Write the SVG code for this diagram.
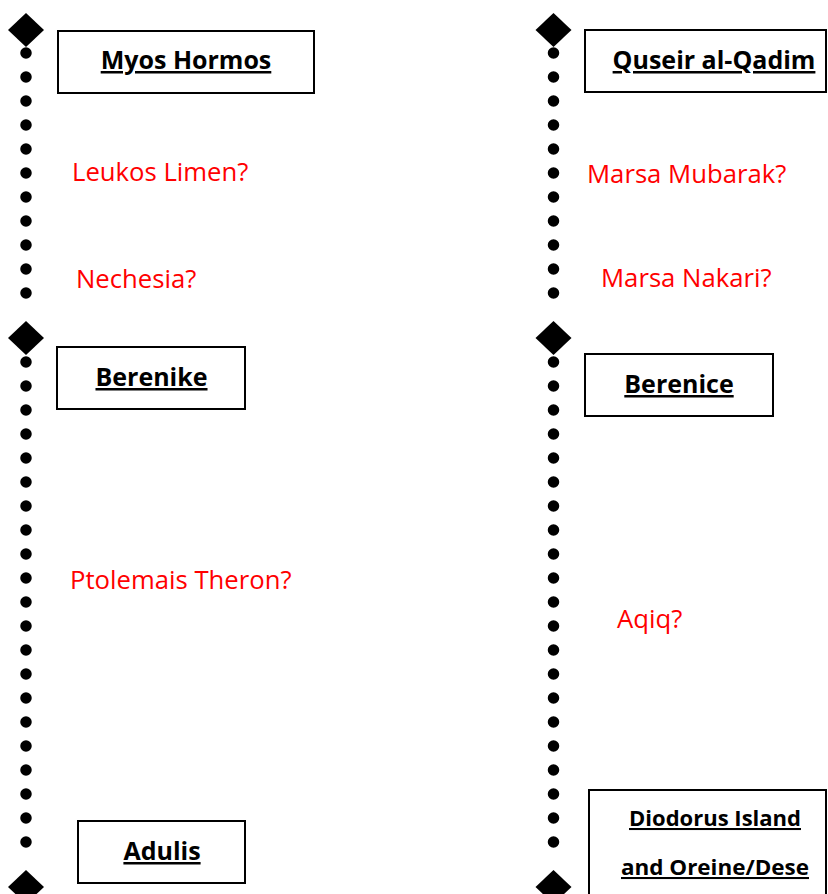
<svg xmlns="http://www.w3.org/2000/svg" width="828" height="894" viewBox="0 0 828 894">
<style>
.box{fill:#fff;stroke:#000;stroke-width:2}
.lbl{font-family:"Open Sans","Noto Sans",sans-serif;font-weight:bold;font-size:25px;fill:#000;text-decoration:underline;text-anchor:middle}
.sm{font-size:20.5px}
.red{font-family:"Open Sans","Noto Sans",sans-serif;font-size:25.7px;fill:#ff0000}
.dots{stroke:#000;stroke-width:11.5;stroke-linecap:round;stroke-dasharray:0 24;fill:none}
</style>
<defs>
<path id="dia" d="M0,-17 L18,0 L0,17 L-18,0 Z" fill="#000"/>
</defs>
<rect width="828" height="894" fill="#fff"/>
<g id="connectors">
<use href="#dia" x="26" y="30"/>
<use href="#dia" x="26" y="338"/>
<use href="#dia" x="26" y="887"/>
<use href="#dia" x="553.5" y="30"/>
<use href="#dia" x="553.5" y="338"/>
<use href="#dia" x="553.5" y="887"/>
<line class="dots" x1="26" y1="53" x2="26" y2="317"/>
<line class="dots" x1="26" y1="362" x2="26" y2="866"/>
<line class="dots" x1="553.5" y1="53" x2="553.5" y2="317"/>
<line class="dots" x1="553.5" y1="362" x2="553.5" y2="866"/>
</g>
<g id="myos-hormos">
<rect class="box" x="58" y="31" width="256" height="62"/>
<text class="lbl" x="186" y="69">Myos Hormos</text>
</g>
<g id="quseir">
<rect class="box" x="585" y="30" width="241" height="62"/>
<text class="lbl" x="714" y="69">Quseir al-Qadim</text>
</g>
<g id="berenike">
<rect class="box" x="57" y="347" width="188" height="62"/>
<text class="lbl" x="151.5" y="386">Berenike</text>
</g>
<g id="berenice">
<rect class="box" x="585" y="354" width="188" height="62"/>
<text class="lbl" x="679" y="393">Berenice</text>
</g>
<g id="adulis">
<rect class="box" x="78" y="821" width="167" height="62"/>
<text class="lbl" x="162" y="860">Adulis</text>
</g>
<g id="diodorus">
<rect class="box" x="589" y="790" width="237" height="110"/>
<text class="lbl sm" x="715" y="826" textLength="172" lengthAdjust="spacingAndGlyphs">Diodorus Island</text>
<text class="lbl sm" x="715" y="875" textLength="188" lengthAdjust="spacingAndGlyphs">and Oreine/Dese</text>
</g>
<g id="leukos-limen"><text class="red" x="72" y="181">Leukos Limen?</text></g>
<g id="nechesia"><text class="red" x="76" y="288">Nechesia?</text></g>
<g id="ptolemais-theron"><text class="red" x="70" y="589">Ptolemais Theron?</text></g>
<g id="marsa-mubarak"><text class="red" x="587" y="183">Marsa Mubarak?</text></g>
<g id="marsa-nakari"><text class="red" x="601" y="287">Marsa Nakari?</text></g>
<g id="aqiq"><text class="red" x="617" y="628">Aqiq?</text></g>
</svg>
